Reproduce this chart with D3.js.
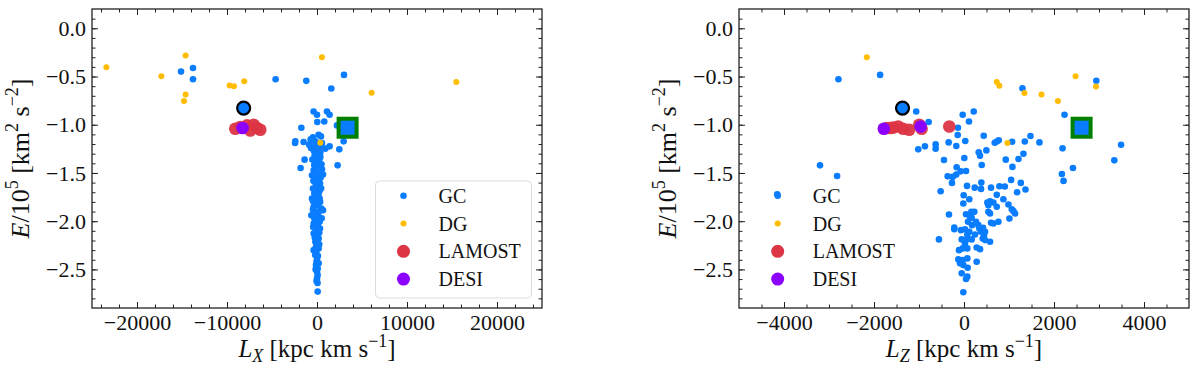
<!DOCTYPE html>
<html lang="en">
<head>
    <meta charset="UTF-8">
    <title>E vs L</title>
    <style>
        body { margin: 0; background: #fff; }
        text, tspan { font-family: "Liberation Serif", serif !important; fill: #111; }
    </style>
</head>
<body>
    <svg id="svg" width="1200" height="377"></svg>

    <script src="https://d3js.org/d3.v7.min.js"></script>
    <script>
        // [L, E/1e5] pairs
        const gcLeft = [
            [-15110, -0.449], [-13780, -0.411], [-13780, -0.528], [-4600, -0.528], [-1190, -0.545], [3000, -0.483], [1590, -0.624],
            [-380, -0.862], [0, -0.897], [1110, -0.862], [1400, -0.897], [30, -0.972], [810, -0.966], [2220, -1.007], [-1740, -1.031],
            [180, -1.103], [440, -1.121], [-2410, -1.172], [-2440, -1.190], [-1490, -1.179], [-860, -1.207], [-670, -1.241],
            [-190, -1.172], [0, -1.196], [920, -1.248], [1400, -1.224], [2960, -1.172], [2480, -1.255], [2290, -1.421],
            [-1380, -1.362], [-1820, -1.448],
            [-820, -1.204], [-560, -1.231], [-260, -1.248], [185, -1.266], [370, -1.290], [-100, -1.300], [-260, -1.317], [300, -1.334],
            [185, -1.282], [-185, -1.317], [0, -1.352], [370, -1.334], [-260, -1.386], [185, -1.403], [-74, -1.437], [-370, -1.473],
            [555, -1.462], [-555, -1.524], [-111, -1.541], [185, -1.576], [666, -1.517], [-260, -1.593], [74, -1.628], [333, -1.610],
            [-444, -1.662], [0, -1.679], [185, -1.714], [-185, -1.748], [-555, -1.765], [0, -1.783], [296, -1.765], [-260, -1.817],
            [111, -1.834], [481, -1.869], [-370, -1.851], [666, -1.886], [0, -1.903], [-630, -1.938], [-185, -1.920], [185, -1.955],
            [-111, -1.990], [-370, -2.024], [296, -2.006], [74, -2.058], [-185, -2.076], [333, -2.076], [-370, -2.127], [0, -2.145],
            [185, -2.179], [-185, -2.213], [74, -2.248], [-370, -2.300], [-74, -2.316], [185, -2.282], [0, -2.403], [185, -2.437],
            [-111, -2.455], [0, -2.523], [74, -2.558], [0, -2.593], [74, -2.730],
            [-90, -1.30], [260, -1.36], [-300, -1.42], [110, -1.50], [-200, -1.56], [400, -1.55], [-100, -1.64], [260, -1.69],
            [-300, -1.71], [100, -1.74], [-80, -1.80], [350, -1.80], [-450, -1.88], [220, -1.90], [-300, -1.97], [100, -2.03],
            [-80, -2.10], [250, -2.12], [-250, -2.17], [40, -2.20], [-100, -2.26], [250, -2.24], [-200, -2.35], [100, -2.36],
            [-50, -2.42], [-150, -2.50], [80, -2.49], [-50, -2.62], [60, -2.64],
            [-700, -1.15], [-450, -1.13], [550, -1.19], [-350, -1.27], [480, -1.22], [-520, -1.36], [500, -1.41], [-400, -1.58],
            [450, -1.66], [-450, -1.79], [520, -1.97], [-420, -2.06]
        ]
        const dgLeft = [
            [-23400, -0.403], [-17300, -0.497], [-14600, -0.283], [-14600, -0.687], [-14780, -0.755], [-9710, -0.593],
            [-9220, -0.600], [-8080, -0.548], [550, -0.300], [6070, -0.669], [15480, -0.558], [370, -1.186]
        ]
        const lamostLeft = [[-9080, -1.042], [-8520, -1.024], [-7780, -1.007], [-7040, -1.000], [-6670, -1.034], [-6300, -1.052], [-7410, -1.059]]
        const desiLeft = [[-8270, -1.034]]
        const circleLeft = [[-8150, -0.827]]
        const squareLeft = [[3400, -1.031]]

        const gcRight = [
            [-2790, -0.528], [-1864, -0.483], [-3200, -1.421], [-2820, -1.531], [-4150, -1.721],
            [-1062, -0.862], [-786, -0.972], [-29, -0.897], [216, -0.862], [111, -0.966], [-134, -1.031], [-140, -1.107],
            [-341, -1.183], [-171, -1.220], [29, -1.169], [-630, -1.204], [-630, -1.248], [-868, -1.224], [-1017, -1.255],
            [-445, -1.365], [7, -1.345], [-163, -1.441], [-363, -1.535], [-252, -1.541], [-171, -1.517], [-74, -1.483], [45, -1.479],
            [-267, -1.603], [-519, -1.690], [-7, -1.731], [67, -1.634], [238, -1.652], [379, -1.665], [385, -1.600], [497, -1.266],
            [327, -1.286], [356, -1.321], [394, -1.417], [438, -1.114], [683, -1.186], [728, -1.173], [772, -1.162], [1069, -1.176],
            [1351, -1.173], [1477, -1.117], [1677, -1.183], [1321, -1.300], [1210, -1.355], [928, -1.362], [1076, -1.437],
            [1047, -1.572], [1262, -1.603], [1366, -1.672], [1180, -1.700], [601, -1.652], [787, -1.638], [906, -1.641], [728, -1.727],
            [2190, -1.245], [2175, -1.510], [2212, -1.582], [2421, -1.448], [2234, -0.897], [3340, -1.369], [3490, -1.207],
            [1299, -0.621], [2940, -0.545],
            [-334, -1.931], [-557, -2.189], [-216, -2.065], [-216, -2.083], [-15, -1.817], [118, -1.772], [45, -1.928], [163, -1.903],
            [229, -1.903], [134, -1.955], [171, -1.965], [89, -2.006], [267, -2.006], [178, -2.041], [-67, -2.093], [22, -2.083],
            [118, -2.110], [74, -2.138], [245, -2.138], [341, -2.076], [379, -2.110], [468, -2.110], [445, -2.145], [-51, -2.189],
            [60, -2.189], [171, -2.189], [22, -2.231], [-29, -2.282], [74, -2.282], [-111, -2.300], [282, -2.272], [356, -2.290],
            [-126, -2.396], [-29, -2.403], [74, -2.386], [-89, -2.437], [-15, -2.455], [82, -2.482], [282, -2.420], [-51, -2.541],
            [74, -2.575], [45, -2.600], [-15, -2.737],
            [519, -1.806], [579, -1.793], [653, -1.806], [728, -1.851], [541, -1.903], [579, -1.920], [764, -2.006], [579, -2.213],
            [875, -1.772], [987, -1.827], [1062, -1.876], [1098, -1.896], [1009, -1.972], [1136, -1.920], [319, -2.041],
            [416, -2.179], [468, -2.196], [653, -2.024], [541, -1.834], [601, -2.017], [423, -2.068]
        ]
        const dgRight = [
            [-2160, -0.300], [728, -0.558], [786, -0.597], [1343, -0.672], [1722, -0.687], [2087, -0.755], [2479, -0.497],
            [2933, -0.603], [965, -1.190]
        ]
        const lamostRight = [[-1722, -1.034], [-1648, -1.034], [-1574, -1.030], [-1463, -1.018], [-1352, -1.042], [-1218, -1.052],
            [-995, -1.000], [-942, -1.042], [-327, -1.018]]
        const desiRight = [[-1782, -1.042], [-964, -1.018]]
        const circleRight = [[-1366, -0.827]]
        const squareRight = [[2613, -1.031]]

        const legendNames = ['GC', 'DG', 'LAMOST', 'DESI']
        const yTicks = [0, -0.5, -1, -1.5, -2, -2.5]

        const blue = '#0a7dff', orange = '#ffbc00', red = '#dc3545', violet = '#8b00ff'
        const serif = 'Liberation Serif'
        const svg = d3.select('#svg')
        const plotTop = 9, plotBottom = 308

        function panel(o) {
            const g = svg.append('g')
            const x = d3.scaleLinear().domain(o.xDomain).range([o.left, o.left + 450])
            const y = d3.scaleLinear().domain([-2.9, 0.2]).range([plotBottom, plotTop])
            const yMinor = d3.range(-28, 2).map(d => d / 10)

            const clipId = 'clip' + o.left
            svg.append('clipPath').attr('id', clipId).append('rect')
                .attr('x', o.left).attr('y', plotTop).attr('width', 450).attr('height', plotBottom - plotTop)

            // ticks pointing inward on all four sides
            const axes = [
                [d3.axisBottom(x).tickValues(o.xMajor).tickFormat(d3.format('d')), 'translate(0,' + plotBottom + ')', 6],
                [d3.axisBottom(x).tickValues(o.xMinor).tickFormat(''), 'translate(0,' + plotBottom + ')', 3.5],
                [d3.axisTop(x).tickValues(o.xMajor).tickFormat(''), 'translate(0,' + plotTop + ')', 6],
                [d3.axisTop(x).tickValues(o.xMinor).tickFormat(''), 'translate(0,' + plotTop + ')', 3.5],
                [d3.axisLeft(y).tickValues(yTicks).tickFormat(d3.format('.1f')), 'translate(' + o.left + ',0)', 6],
                [d3.axisLeft(y).tickValues(yMinor).tickFormat(''), 'translate(' + o.left + ',0)', 3.5],
                [d3.axisRight(y).tickValues(yTicks).tickFormat(''), 'translate(' + (o.left + 450) + ',0)', 6],
                [d3.axisRight(y).tickValues(yMinor).tickFormat(''), 'translate(' + (o.left + 450) + ',0)', 3.5]
            ]
            axes.forEach(([ax, tr, len]) => {
                const a = g.append('g').attr('transform', tr)
                    .call(ax.tickSize(-len).tickPadding(6))
                    .attr('font-family', serif).attr('font-size', 22)
                a.select('.domain').remove()
                a.selectAll('line').attr('stroke', '#222').attr('stroke-width', 1)
                a.selectAll('text').attr('fill', '#111')
            })

            const pts = g.append('g').attr('clip-path', 'url(#' + clipId + ')')
            const dots = (data, r, fill) => pts.append('g').selectAll('circle').data(data).join('circle')
                .attr('cx', d => x(d[0])).attr('cy', d => y(d[1])).attr('r', r).attr('fill', fill)
            dots(o.gc, 3.3, blue)
            dots(o.dg, 3, orange)
            dots(o.lamost, 6.3, red).attr('opacity', 0.95)
            dots(o.desi, 6.3, violet)
            dots(o.circle, 6.5, blue).attr('stroke', '#000').attr('stroke-width', 2.2)
            pts.append('g').selectAll('rect').data(o.square).join('rect')
                .attr('x', d => x(d[0]) - 9).attr('y', d => y(d[1]) - 9)
                .attr('width', 18).attr('height', 18)
                .attr('fill', blue).attr('stroke', 'green').attr('stroke-width', 4)

            g.append('rect')
                .attr('x', o.left).attr('y', plotTop).attr('width', 450).attr('height', plotBottom - plotTop)
                .attr('fill', 'none').attr('stroke', '#222').attr('stroke-width', 1.3)

            // legend
            const lg = g.append('g').attr('font-family', serif)
            if (o.frame) {
                lg.append('rect').attr('x', o.lx - 28).attr('y', 181).attr('width', 156).attr('height', 117)
                    .attr('rx', 4).attr('fill', 'white').attr('fill-opacity', 0.8)
                    .attr('stroke', '#dcdcdc').attr('stroke-width', 1)
            }
            const legendR = [3.3, 3, 6.5, 6.5]
            const legendC = [blue, orange, red, violet]
            legendNames.forEach((name, i) => {
                const cy = 195.7 + i * 27.8
                lg.append('circle').attr('cx', o.lx).attr('cy', cy).attr('r', legendR[i]).attr('fill', legendC[i])
                lg.append('text').attr('x', o.lx + 35).attr('y', cy + 7).attr('font-size', 20).text(name)
            })

            // axis titles
            const xl = g.append('text').attr('x', o.left + 225).attr('y', 357)
                .attr('text-anchor', 'middle').attr('font-family', serif).attr('font-size', 25)
            xl.append('tspan').attr('font-style', 'italic').text('L')
            xl.append('tspan').attr('font-style', 'italic').attr('font-size', 18).attr('dy', 5).text(o.sub)
            xl.append('tspan').attr('dy', -5).text(' [kpc km s')
            xl.append('tspan').attr('font-size', 18).attr('dy', -10).text('−1')
            xl.append('tspan').attr('dy', 10).text(']')

            const yl = g.append('text')
                .attr('transform', 'translate(' + (o.left - 63) + ',' + ((plotTop + plotBottom) / 2) + ') rotate(-90)')
                .attr('text-anchor', 'middle').attr('font-family', serif).attr('font-size', 26)
            yl.append('tspan').attr('font-style', 'italic').text('E')
            yl.append('tspan').text('/10')
            yl.append('tspan').attr('font-size', 18).attr('dy', -11).text('5')
            yl.append('tspan').attr('dy', 11).text(' [km')
            yl.append('tspan').attr('font-size', 18).attr('dy', -11).text('2')
            yl.append('tspan').attr('dy', 11).text(' s')
            yl.append('tspan').attr('font-size', 18).attr('dy', -11).text('−2')
            yl.append('tspan').attr('dy', 11).text(']')
        }

        panel({
            left: 92, xDomain: [-25000, 25000],
            xMajor: [-20000, -10000, 0, 10000, 20000], xMinor: d3.range(-24000, 25000, 2000),
            gc: gcLeft, dg: dgLeft, lamost: lamostLeft, desi: desiLeft, circle: circleLeft, square: squareLeft,
            sub: 'X', frame: true, lx: 403.5
        })
        panel({
            left: 739, xDomain: [-5000, 5000],
            xMajor: [-4000, -2000, 0, 2000, 4000], xMinor: d3.range(-4500, 5000, 500),
            gc: gcRight, dg: dgRight, lamost: lamostRight, desi: desiRight, circle: circleRight, square: squareRight,
            sub: 'Z', frame: false, lx: 777.7
        })
    </script>
</body>
</html>
